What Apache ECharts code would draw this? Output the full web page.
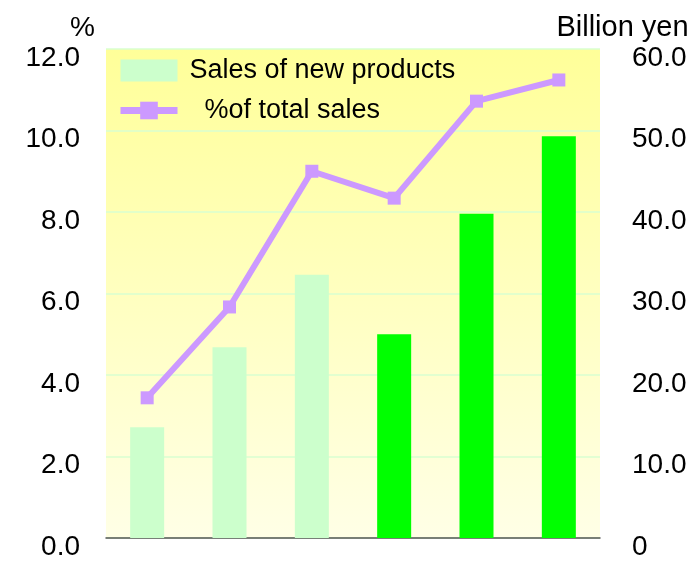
<!DOCTYPE html>
<html lang="en">
<head>
    <meta charset="UTF-8">
    <title>New products</title>
    <script src="https://cdn.jsdelivr.net/npm/echarts@6/dist/echarts.min.js"></script>
    <style>
        html, body { margin: 0; padding: 0; background: #fff; }
        #chart { width: 700px; height: 561px; }
    </style>
</head>
<body>
    <div id="chart"></div>
    <script>
        // data
        var categories = ['1', '2', '3', '4', '5', '6'];
        var salesValues = [13.6, 23.4, 32.3, 25.0, 39.8, 49.3];   // billion yen
        var shareValues = [3.44, 5.67, 9.0, 8.34, 10.72, 11.24];  // % of total sales
        var barColors = ['#CCFFCC', '#CCFFCC', '#CCFFCC', '#00FF00', '#00FF00', '#00FF00'];

        var chart = echarts.init(document.getElementById('chart'));
        var font = 'Liberation Sans';

        var option = {
            animation: false,
            textStyle: { fontFamily: font },
            grid: {
                left: 106,
                right: 100,
                top: 49,
                bottom: 23,
                show: true,
                borderWidth: 0,
                backgroundColor: {
                    type: 'linear', x: 0, y: 0, x2: 0, y2: 1,
                    colorStops: [
                        { offset: 0, color: '#FFFF99' },
                        { offset: 1, color: '#FFFFE6' }
                    ]
                }
            },
            legend: {
                orient: 'vertical',
                left: 112,
                top: 52,
                itemWidth: 57,
                itemHeight: 22,
                itemGap: 13,
                textStyle: { fontSize: 27, color: '#000', fontFamily: font, padding: [0, 0, 0, 7] },
                data: [
                    { name: 'Sales of new products', icon: 'rect', itemStyle: { color: '#CCFFCC' } },
                    { name: '  %of total sales', lineStyle: { width: 7, color: '#CC99FF' } }
                ]
            },
            xAxis: {
                type: 'category',
                data: categories,
                axisLabel: { show: false },
                axisLine: { lineStyle: { color: '#555', width: 1.5 } },
                axisTick: { inside: true, length: 7, lineStyle: { color: '#555' } }
            },
            yAxis: [
                {
                    type: 'value',
                    min: 0, max: 12, interval: 2,
                    name: '%',
                    nameLocation: 'end',
                    nameGap: 7,
                    nameTextStyle: { fontSize: 28, color: '#000', align: 'right', padding: [0, 11, 0, 0] },
                    axisLine: { show: false },
                    axisTick: { show: false },
                    axisLabel: {
                        fontSize: 28, color: '#000', margin: 26,
                        verticalAlign: 'top', lineHeight: 18,
                        formatter: function (v) { return v.toFixed(1); }
                    },
                    splitLine: { lineStyle: { color: '#D8FFD0', width: 1.5 } }
                },
                {
                    type: 'value',
                    min: 0, max: 60, interval: 10,
                    name: 'Billion yen',
                    nameLocation: 'end',
                    nameGap: 7,
                    nameTextStyle: { fontSize: 29, color: '#000', align: 'center', padding: [0, 0, 0, 45] },
                    axisLine: { show: false },
                    axisTick: { show: false },
                    axisLabel: {
                        fontSize: 28, color: '#000', margin: 32,
                        verticalAlign: 'top', lineHeight: 18,
                        formatter: function (v) { return v === 0 ? '0' : v.toFixed(1); }
                    },
                    splitLine: { show: false }
                }
            ],
            series: [
                {
                    name: 'Sales of new products',
                    type: 'bar',
                    yAxisIndex: 1,
                    barWidth: 34,
                    data: salesValues.map(function (v, i) {
                        return { value: v, itemStyle: { color: barColors[i] } };
                    }),
                    itemStyle: { color: '#CCFFCC' }
                },
                {
                    name: '  %of total sales',
                    type: 'line',
                    yAxisIndex: 0,
                    data: shareValues,
                    symbol: 'rect',
                    symbolSize: 13,
                    lineStyle: { color: '#CC99FF', width: 6 },
                    itemStyle: { color: '#CC99FF' },
                    z: 5
                }
            ]
        };
        chart.setOption(option);
    </script>
</body>
</html>
